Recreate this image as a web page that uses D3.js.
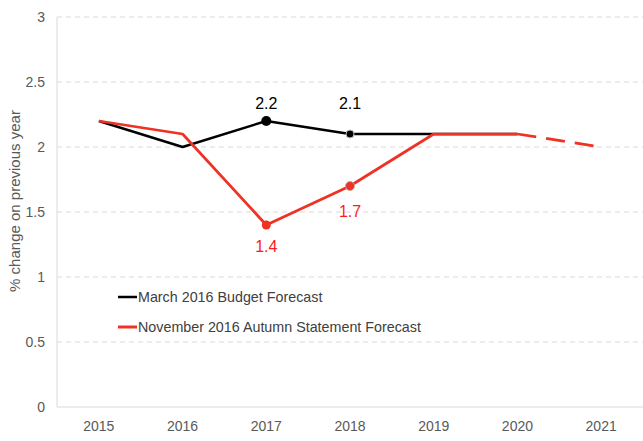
<!DOCTYPE html>
<html>
<head>
<meta charset="utf-8">
<script src="https://cdn.jsdelivr.net/npm/d3@7"></script>
<style>
  html, body { margin: 0; padding: 0; background: #fff; }
  svg { display: block; font-family: "Liberation Sans", Arial, sans-serif; }
</style>
</head>
<body>
<svg id="chart" width="643" height="441"></svg>
<script>
// Inflation forecasts, % change on previous year
const years = ["2015", "2016", "2017", "2018", "2019", "2020", "2021"];
const budgetMarch2016 = [2.2, 2.0, 2.2, 2.1, 2.1, 2.1, null];
const autumnNov2016 = [2.2, 2.1, 1.4, 1.7, 2.1, 2.1, 2.0];
const yTicks = [0, 0.5, 1, 1.5, 2, 2.5, 3];
const seriesNames = ["March 2016 Budget Forecast", "November 2016 Autumn Statement Forecast"];
// Highlighted points with value labels: [year, value]
const budgetLabels = [["2017", 2.2], ["2018", 2.1]];
const autumnLabels = [["2017", 1.4], ["2018", 1.7]];
// Vertical offsets (px) of the value labels from their points
const budgetLabelOffset = [-18, -31];
const autumnLabelOffset = [21, 25];

const svg = d3.select("#chart");
const margin = { left: 57, right: 0, top: 17, bottom: 34 };
const W = 643, H = 441;

const x = d3.scaleBand().domain(years).range([margin.left, W - margin.right]);
const y = d3.scaleLinear().domain([0, 3]).range([H - margin.bottom, margin.top]);
const cx = d => x(d) + x.bandwidth() / 2;

const black = "#000000";
const red = "#ee3224";
const tickColor = "#595959";

// Gridlines
svg.append("g").selectAll("line").data(yTicks.filter(t => t > 0)).join("line")
  .attr("x1", margin.left).attr("x2", W)
  .attr("y1", d => y(d)).attr("y2", d => y(d))
  .attr("stroke", "#d9d9d9").attr("stroke-width", 1)
  .attr("stroke-dasharray", "5,4");

// Axis lines
svg.append("line").attr("x1", margin.left).attr("x2", margin.left)
  .attr("y1", y(3)).attr("y2", y(0)).attr("stroke", "#d9d9d9").attr("stroke-width", 1);
svg.append("line").attr("x1", margin.left).attr("x2", W)
  .attr("y1", y(0)).attr("y2", y(0)).attr("stroke", "#d9d9d9").attr("stroke-width", 1);

// Y tick labels
svg.append("g").selectAll("text").data(yTicks).join("text")
  .attr("x", 45).attr("y", d => y(d)).attr("dy", "0.35em")
  .attr("text-anchor", "end").attr("fill", tickColor).attr("font-size", 14)
  .text(d => d);

// X tick labels
svg.append("g").selectAll("text").data(years).join("text")
  .attr("x", d => cx(d)).attr("y", 431)
  .attr("text-anchor", "middle").attr("fill", tickColor).attr("font-size", 14)
  .text(d => d);

// Y axis title
svg.append("text")
  .attr("transform", `translate(20,201) rotate(-90)`)
  .attr("text-anchor", "middle").attr("fill", tickColor).attr("font-size", 15)
  .text("% change on previous year");

const line = d3.line().x(d => cx(d[0])).y(d => y(d[1]));

// March 2016 Budget series
const budgetPts = years.map((yr, i) => [yr, budgetMarch2016[i]]).filter(d => d[1] != null);
svg.append("path").attr("d", line(budgetPts))
  .attr("fill", "none").attr("stroke", black).attr("stroke-width", 2.5)
  .attr("stroke-linejoin", "round");

// November 2016 Autumn Statement series: solid to 2020, dashed to 2021
const autumnPts = years.map((yr, i) => [yr, autumnNov2016[i]]);
svg.append("path").attr("d", line(autumnPts.slice(0, 6)))
  .attr("fill", "none").attr("stroke", red).attr("stroke-width", 2.75)
  .attr("stroke-linejoin", "round");
svg.append("path").attr("d", line(autumnPts.slice(5)))
  .attr("fill", "none").attr("stroke", red).attr("stroke-width", 2.75)
  .attr("stroke-dasharray", "19,10");

// Markers
svg.append("g").selectAll("circle").data(budgetLabels).join("circle")
  .attr("cx", d => cx(d[0])).attr("cy", d => y(d[1]))
  .attr("r", (d, i) => i === 0 ? 5 : 4)
  .attr("fill", black).attr("stroke", (d, i) => i === 0 ? "none" : "#bfbfbf").attr("stroke-width", 1);
svg.append("g").selectAll("circle").data(autumnLabels).join("circle")
  .attr("cx", d => cx(d[0])).attr("cy", d => y(d[1]))
  .attr("r", 4.5)
  .attr("fill", red).attr("stroke", (d, i) => i === 0 ? "none" : "#c9a0a0").attr("stroke-width", 1);

// Value labels
svg.append("g").selectAll("text").data(budgetLabels).join("text")
  .attr("x", d => cx(d[0])).attr("y", (d, i) => y(d[1]) + budgetLabelOffset[i]).attr("dy", "0.35em")
  .attr("text-anchor", "middle").attr("fill", black).attr("font-size", 16)
  .text(d => d[1].toFixed(1));
svg.append("g").selectAll("text").data(autumnLabels).join("text")
  .attr("x", d => cx(d[0])).attr("y", (d, i) => y(d[1]) + autumnLabelOffset[i]).attr("dy", "0.35em")
  .attr("text-anchor", "middle").attr("fill", "#ff1a1a").attr("font-size", 16)
  .text(d => d[1].toFixed(1));

// Legend
const legend = svg.append("g");
[[black, 2.5], [red, 3]].forEach((s, i) => {
  const ly = 297 + i * 30;
  legend.append("line").attr("x1", 118).attr("x2", 137).attr("y1", ly).attr("y2", ly)
    .attr("stroke", s[0]).attr("stroke-width", s[1]);
  legend.append("text").attr("x", 138).attr("y", ly).attr("dy", "0.35em")
    .attr("fill", "#404040").attr("font-size", 14.3).text(seriesNames[i]);
});
</script>
</body>
</html>
